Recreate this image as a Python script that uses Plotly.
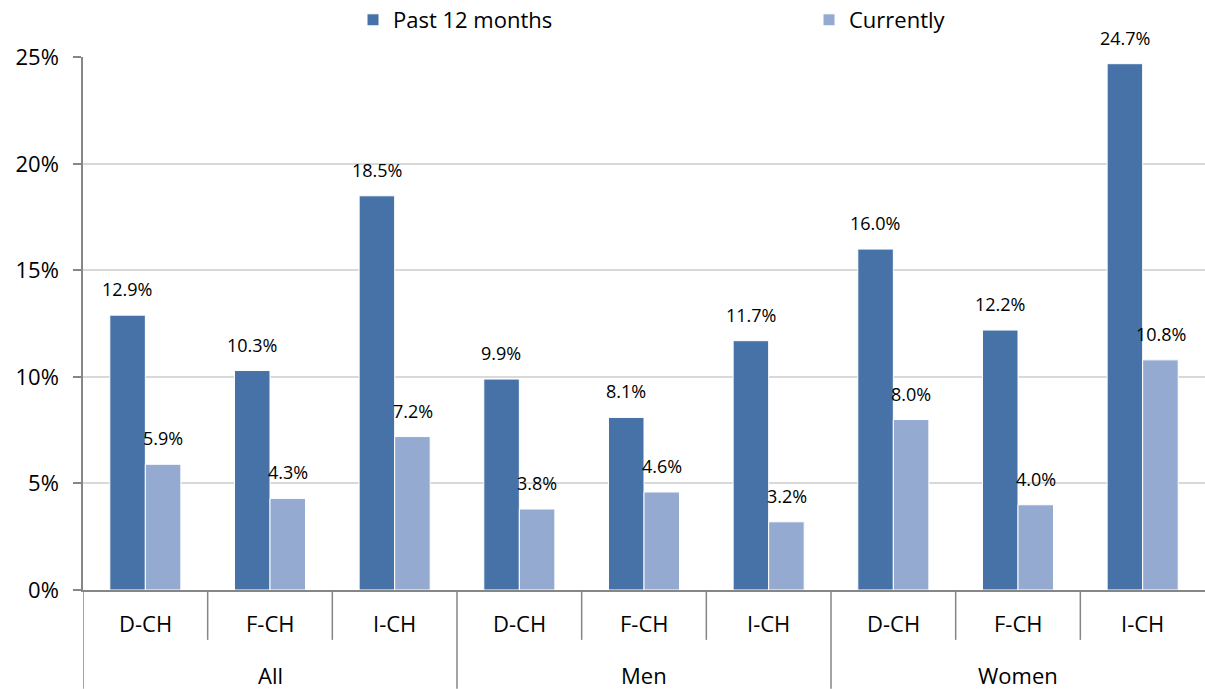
import plotly.graph_objects as go

groups = ["All", "Men", "Women"]
regions = ["D-CH", "F-CH", "I-CH"]
past_12_months = [12.9, 10.3, 18.5, 9.9, 8.1, 11.7, 16.0, 12.2, 24.7]
currently = [5.9, 4.3, 7.2, 3.8, 4.6, 3.2, 8.0, 4.0, 10.8]
y_ticks = [0, 5, 10, 15, 20, 25]

DARK = "#4672A8"
LIGHT = "#95AAD1"
FONT = "Open Sans"

labels = [r for g in groups for r in regions]
xs = list(range(len(labels)))

W, H = 1205, 689
ML, MR, MT, MB = 83, 0, 56, 99
PH = H - MT - MB
AXIS_Y = H - MB  # pixel row of the category axis

fig = go.Figure()
fig.add_trace(go.Bar(x=xs, y=past_12_months, name="Past 12 months",
                     marker=dict(color=DARK, line=dict(color="white", width=1))))
fig.add_trace(go.Bar(x=xs, y=currently, name="Currently",
                     marker=dict(color=LIGHT, line=dict(color="white", width=1))))

ann = []
for i, v in enumerate(past_12_months):
    ann.append(dict(x=xs[i], y=v, xref="x", yref="y", text=f"{v:.1f}%", showarrow=False,
                    xshift=-18, yshift=12, yanchor="bottom",
                    font=dict(family=FONT, size=18, color="black")))
for i, v in enumerate(currently):
    ann.append(dict(x=xs[i], y=v, xref="x", yref="y", text=f"{v:.1f}%", showarrow=False,
                    xshift=18, yshift=12, yanchor="bottom",
                    font=dict(family=FONT, size=18, color="black")))
for i, lab in enumerate(labels):
    ann.append(dict(x=xs[i], y=-(623 - AXIS_Y) / PH, xref="x", yref="paper", text=lab,
                    showarrow=False, yanchor="middle",
                    font=dict(family=FONT, size=22, color="black")))
n = len(regions)
for gi, g in enumerate(groups):
    ann.append(dict(x=gi * n + (n - 1) / 2, y=-(675 - AXIS_Y) / PH, xref="x", yref="paper",
                    text=g, showarrow=False, yanchor="middle",
                    font=dict(family=FONT, size=22, color="black")))

shapes = []
for k in range(len(labels)):
    xb = k - 0.5
    full = (k % n == 0)
    y1 = -(MB) / PH if full else -(50) / PH
    shapes.append(dict(type="line", xref="x", yref="paper", x0=xb, x1=xb, y0=0, y1=y1,
                       line=dict(color="#868686", width=1.5)))

fig.update_layout(
    width=W, height=H,
    margin=dict(l=ML, r=MR, t=MT, b=MB, pad=0),
    plot_bgcolor="white", paper_bgcolor="white",
    barmode="group", bargap=0.43, bargroupgap=0.0,
    font=dict(family=FONT, size=22, color="black"),
    showlegend=True,
    legend=dict(orientation="h", xref="container", yref="container",
                x=353 / W, xanchor="left", y=1 - 20 / H, yanchor="middle",
                entrywidth=411, entrywidthmode="pixels",
                font=dict(family=FONT, size=22, color="black"),
                bgcolor="rgba(0,0,0,0)"),
    annotations=ann,
    shapes=shapes,
)
fig.update_xaxes(range=[-0.5, len(labels) - 0.5], showticklabels=False, showgrid=False,
                 zeroline=False, showline=True, linecolor="#868686", linewidth=1.5,
                 ticks="", fixedrange=True)
fig.update_yaxes(range=[0, 25], tickvals=y_ticks, ticktext=[f"{t}%" for t in y_ticks],
                 showgrid=True, gridcolor="#D9D9D9", gridwidth=1.5, zeroline=False,
                 showline=True, linecolor="#868686", linewidth=1.5,
                 ticks="outside", ticklen=8, tickcolor="#868686", tickwidth=1.5,
                 ticklabelstandoff=10,
                 tickfont=dict(family=FONT, size=22, color="black"), fixedrange=True)

fig.write_html("out.html", config={"displayModeBar": False},
               post_script="document.body.style.margin='0';document.body.style.overflow='hidden';")
